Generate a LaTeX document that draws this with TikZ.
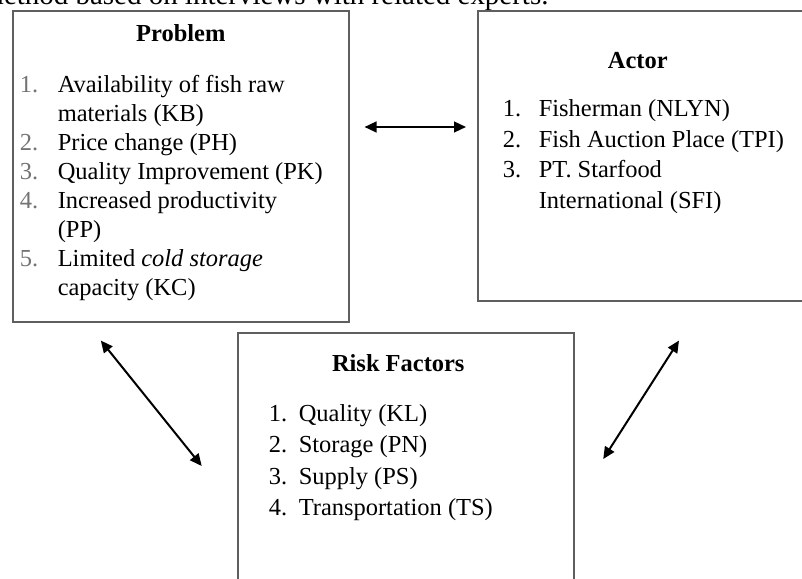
\documentclass[tikz,border=0pt]{standalone}
\definecolor{framegray}{RGB}{95, 95, 95}
\definecolor{numgray}{RGB}{115, 115, 115}
\usepackage{fontspec}
\setmainfont{Liberation Serif}
\usetikzlibrary{arrows.meta, positioning, calc}
\newcommand{\fishnum}[2]{\makebox[#1][l]{#2}}

\begin{document}
\begin{tikzpicture}[
  box/.style={draw=framegray, line width=1.1pt, inner sep=0pt, anchor=north west, font=\fontsize{17.4}{20.6}\selectfont},
  link/.style={{Triangle[length=0.3cm, width=0.27cm]}-{Triangle[length=0.3cm, width=0.27cm]}, line width=0.05cm}
]
  \useasboundingbox (0,0) rectangle (20.05,-14.475);
  \clip (0,0) rectangle (20.05,-14.475);

  % Caption line, cut off at the top
  \node[anchor=base west, inner sep=0pt, font=\fontsize{20.6}{24}\selectfont] (caption) at (-0.47,-0.115) {method based on interviews with related experts.};

  % Problem
  \node[box, inner xsep=0.175cm] (problem) at (0.3,-0.25) {\parbox[c][7.775cm][t]{8.05cm}{\raggedright\lineskiplimit=-50pt
    \rule{0pt}{0.775cm}\makebox[8.05cm]{\textbf{Problem}}\\[0.55cm]
    \fishnum{0.95cm}{\textcolor{numgray}{1.}}Availability of fish raw\\
    \fishnum{0.95cm}{}materials (KB)\\
    \fishnum{0.95cm}{\textcolor{numgray}{2.}}Price change (PH)\\
    \fishnum{0.95cm}{\textcolor{numgray}{3.}}Quality Improvement (PK)\\
    \fishnum{0.95cm}{\textcolor{numgray}{4.}}Increased productivity\\
    \fishnum{0.95cm}{}(PP)\\
    \fishnum{0.95cm}{\textcolor{numgray}{5.}}Limited \textit{cold storage}\\
    \fishnum{0.95cm}{}capacity (KC)
  }};

  % Actor
  \node[box, inner xsep=0.625cm] (actor) at (11.925,-0.25) {\parbox[c][7.25cm][t]{7.575cm}{\raggedright\lineskiplimit=-50pt
    \fontsize{17.4}{21.8}\selectfont
    \rule{0pt}{1.45cm}\makebox[6.75cm]{\textbf{Actor}}\\[0.43cm]
    \fishnum{0.9cm}{1.}Fisherman (NLYN)\\
    \fishnum{0.9cm}{2.}Fish Auction Place (TPI)\\
    \fishnum{0.9cm}{3.}PT. Starfood\\
    \fishnum{0.9cm}{}International (SFI)
  }};

  % Risk factors
  \node[box, inner xsep=0.775cm] (risk) at (5.925,-8.3) {\parbox[c][7.5cm][t]{6.85cm}{\raggedright\lineskiplimit=-50pt
    \fontsize{17.4}{22.2}\selectfont
    \rule{0pt}{0.975cm}\makebox[6.475cm]{\textbf{Risk Factors}}\\[0.47cm]
    \fishnum{0.75cm}{1.}Quality (KL)\\
    \fishnum{0.75cm}{2.}Storage (PN)\\
    \fishnum{0.75cm}{3.}Supply (PS)\\
    \fishnum{0.75cm}{4.}Transportation (TS)
  }};

  % Links
  \draw[link] ([shift={(0.375,-2.925)}]problem.north east) -- ([shift={(-0.275,-2.925)}]actor.north west);
  \draw[link] ([shift={(2.22,-0.45)}]problem.south west) -- ([shift={(-0.8825,-3.35)}]risk.north west);
  \draw[link] ([shift={(5.05,-0.975)}]actor.south west) -- ([shift={(0.7175,-3.175)}]risk.north east);
\end{tikzpicture}
\end{document}
